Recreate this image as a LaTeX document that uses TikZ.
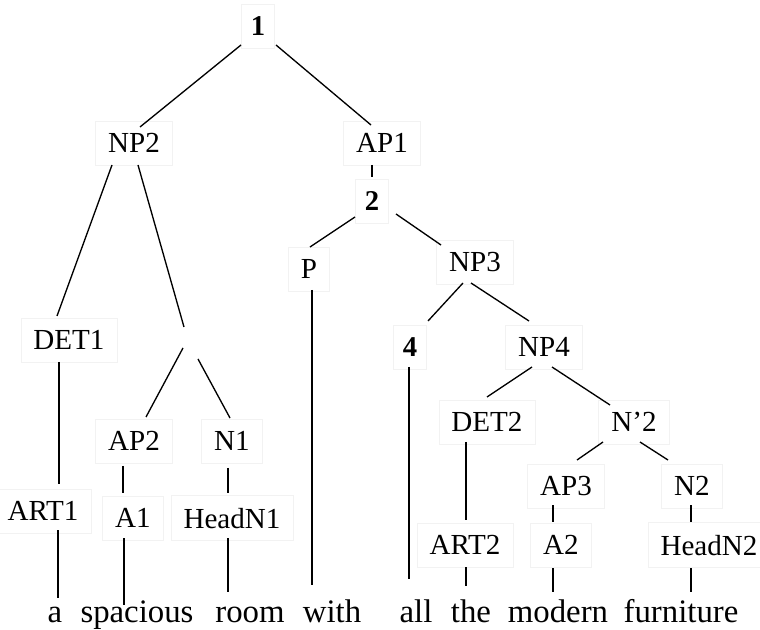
\documentclass[tikz,border=0pt]{standalone}
\usepackage{fontspec}
\setmainfont{Liberation Serif}
\usetikzlibrary{calc}
\begin{document}
\begin{tikzpicture}[x=0.75pt,y=-0.75pt,
  lbl/.style={draw=black!5, line width=0.4pt, inner xsep=9.5pt, inner ysep=9.4pt, text depth=0pt,
    font=\fontsize{21.8}{24}\selectfont},
  num/.style={lbl, inner xsep=7pt, font=\fontsize{21.5}{24}\selectfont\bfseries},
  blank/.style={inner sep=0pt, minimum width=20pt, minimum height=20pt},
  word/.style={inner sep=0pt, anchor=base, font=\fontsize{24.6}{28}\selectfont},
  edge/.style={line width=1pt, black}]
\useasboundingbox (0,0) rectangle (760,630);
% nodes
\node[num] (n1) at (258,26) {1};
\node[lbl] (NP2) at (134,143) {NP2};
\node[lbl] (AP1) at (382,143) {AP1};
\node[num] (n2) at (372,201) {2};
\node[lbl] (P) at (309,269) {P};
\node[lbl] (NP3) at (475,262) {NP3};
\node[num] (n4) at (410,347) {4};
\node[lbl] (NP4) at (544,347) {NP4};
\node[lbl] (DET1) at (69,340) {DET1};
\node[blank] (X) at (195,338) {};
\node[lbl] (AP2) at (134,441) {AP2};
\node[lbl] (N1) at (232,441) {N1};
\node[lbl] (ART1) at (43,511) {ART1};
\node[lbl] (A1) at (133,518) {A1};
\node[lbl] (HeadN1) at (232,518) {HeadN1};
\node[lbl] (DET2) at (487,422) {DET2};
\node[lbl] (Np2) at (634,422) {N’2};
\node[lbl] (AP3) at (566,486) {AP3};
\node[lbl] (N2) at (692,486) {N2};
\node[lbl] (ART2) at (465,545) {ART2};
\node[lbl] (A2) at (561,545) {A2};
\node[lbl] (HeadN2) at (709,545) {HeadN2};
% words
\node[word] (wa) at (55,622) {a};
\node[word] (wspacious) at (137,622) {spacious};
\node[word] (wroom) at (250,622) {room};
\node[word] (wwith) at (332,622) {with};
\node[word] (wall) at (416,622) {all};
\node[word] (wthe) at (471,622) {the};
\node[word] (wmodern) at (558,622) {modern};
\node[word] (wfurniture) at (681,622) {furniture};
% edges
\draw[edge] ($(n1)+(-17,19)$) -- ($(NP2)+(6,-16)$);
\draw[edge] ($(n1)+(18,19)$) -- ($(AP1)+(-11,-18)$);
\draw[edge] ($(NP2)+(-22,22)$) -- ($(DET1)+(-12,-24)$);
\draw[edge] ($(NP2)+(4,22)$) -- ($(X)+(-11,-11)$);
\draw[edge] ($(AP1)+(-10,22)$) -- ($(n2)+(0,-24)$);
\draw[edge] ($(n2)+(-17,16)$) -- ($(P)+(1,-22)$);
\draw[edge] ($(n2)+(24,13)$) -- ($(NP3)+(-34,-17)$);
\draw[edge] ($(P)+(3,21)$) -- ($(wwith.base)+(-20,-37)$);
\draw[edge] ($(NP3)+(-12,21)$) -- ($(n4)+(18,-26)$);
\draw[edge] ($(NP3)+(-4,21)$) -- ($(NP4)+(-15,-26)$);
\draw[edge] ($(n4)+(-1,20)$) -- ($(wall.base)+(-7,-43)$);
\draw[edge] ($(NP4)+(-12,20)$) -- ($(DET2)+(0,-25)$);
\draw[edge] ($(NP4)+(8,20)$) -- ($(Np2)+(-24,-17)$);
\draw[edge] ($(DET1)+(-10,22)$) -- ($(ART1)+(16,-27)$);
\draw[edge] ($(X)+(-12,10)$) -- ($(AP2)+(12,-24)$);
\draw[edge] ($(X)+(3,21)$) -- ($(N1)+(-2,-23)$);
\draw[edge] ($(AP2)+(-11,25)$) -- ($(A1)+(-10,-25)$);
\draw[edge] ($(N1)+(-4,27)$) -- ($(HeadN1)+(-4,-25)$);
\draw[edge] ($(ART1)+(15,19)$) -- ($(wa.base)+(3,-24)$);
\draw[edge] ($(A1)+(-9,20)$) -- ($(wspacious.base)+(-13,-17)$);
\draw[edge] ($(HeadN1)+(-4,20)$) -- ($(wroom.base)+(-22,-30)$);
\draw[edge] ($(DET2)+(-21,20)$) -- ($(ART2)+(1,-25)$);
\draw[edge] ($(ART2)+(1,22)$) -- ($(wthe.base)+(-5,-36)$);
\draw[edge] ($(Np2)+(-31,20)$) -- ($(AP3)+(11,-26)$);
\draw[edge] ($(Np2)+(6,20)$) -- ($(N2)+(-24,-26)$);
\draw[edge] ($(AP3)+(-13,19)$) -- ($(A2)+(-8,-23)$);
\draw[edge] ($(A2)+(-8,23)$) -- ($(wmodern.base)+(-5,-30)$);
\draw[edge] ($(N2)+(-1,19)$) -- ($(HeadN2)+(-18,-23)$);
\draw[edge] ($(HeadN2)+(-18,23)$) -- ($(wfurniture.base)+(10,-30)$);
\end{tikzpicture}
\end{document}
